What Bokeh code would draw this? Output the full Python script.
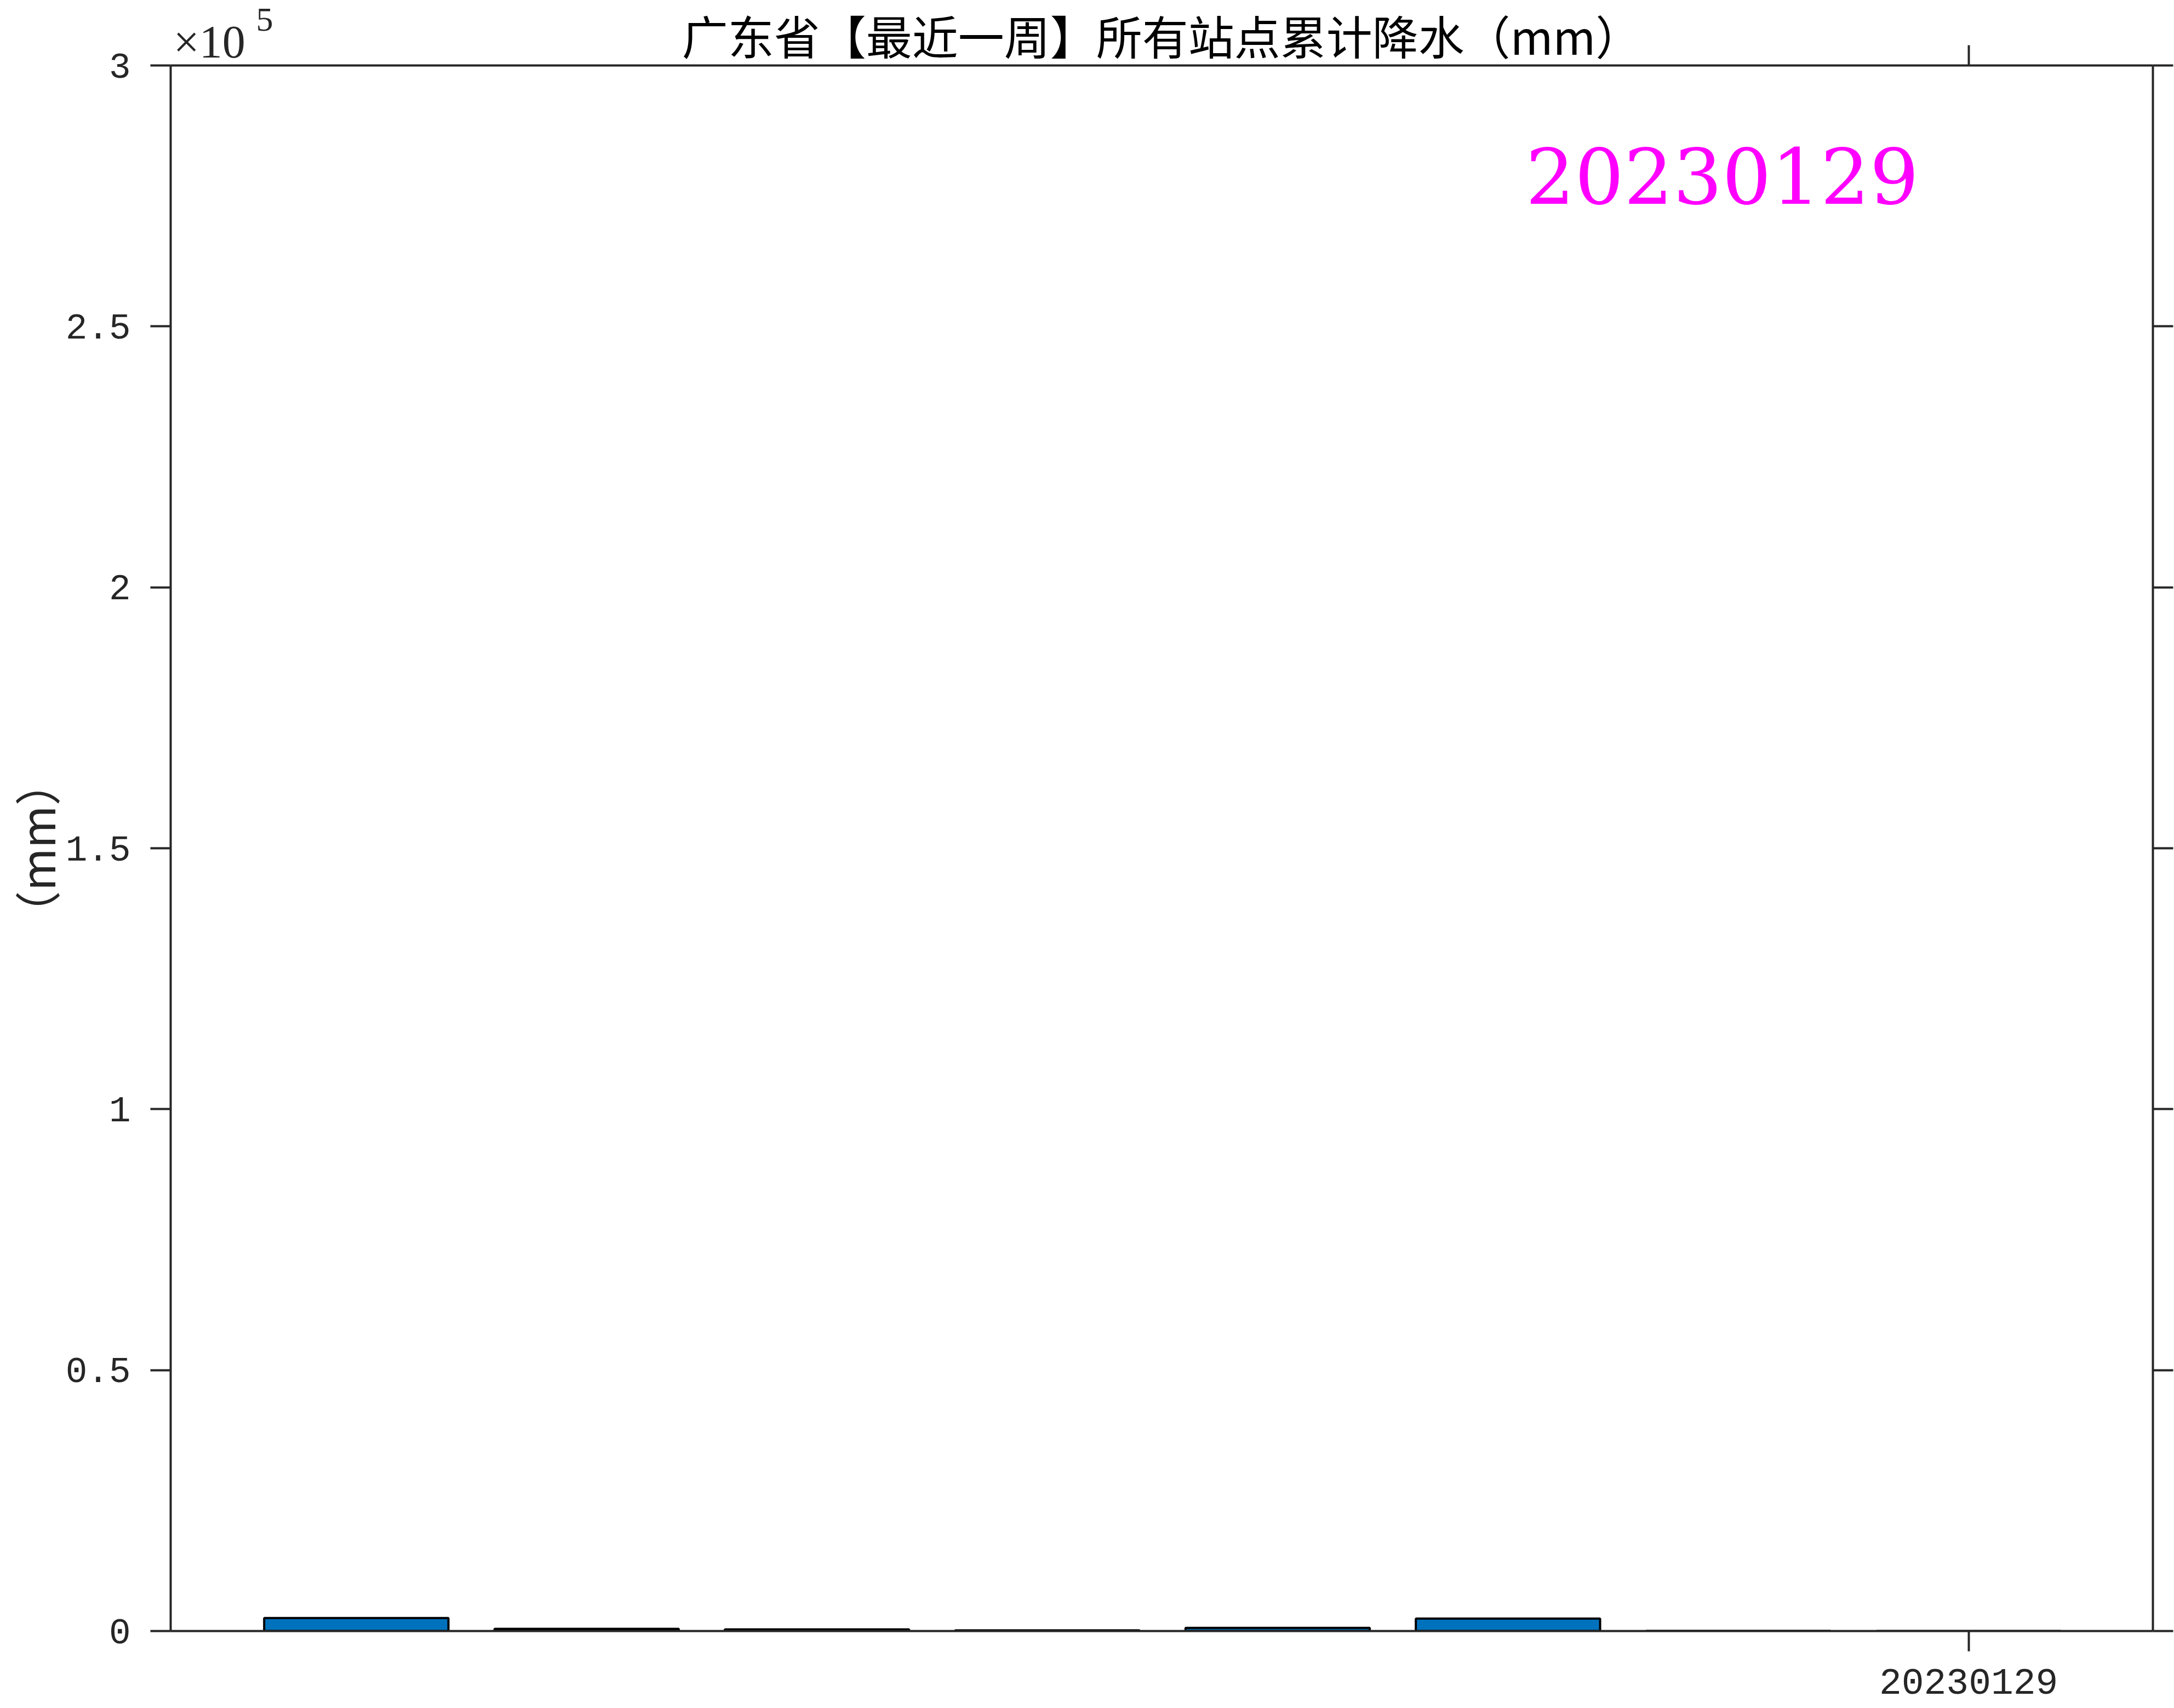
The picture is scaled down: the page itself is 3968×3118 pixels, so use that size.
import math
from bokeh.plotting import figure
from bokeh.models import Range1d, LinearAxis, FixedTicker, Label
from bokeh.core.properties import value
from bokeh.embed import file_html
from bokeh.resources import INLINE

# ---- data ----
bar_positions = [1, 2, 3, 4, 5, 6, 7, 8]
precip_mm = [2500, 420, 320, 130, 600, 2400, 20, 0]
x_tick_positions = [8]
x_tick_labels = ["20230129"]
y_ticks = [0, 50000, 100000, 150000, 200000, 250000, 300000]
y_tick_labels = ["0", "0.5", "1", "1.5", "2", "2.5", "3"]
title_text = "广东省【最近一周】所有站点累计降水（mm）"
y_label_text = "（mm）"
exponent_base = "×10"
exponent_power = "5"
stamp_text = "20230129"
stamp_x = 6.93
stamp_y = 278900
x_limits = (0.194, 8.8)
y_limits = (0, 300000)

AX = "#262626"

p = figure(width=3968, height=3118,
           x_range=Range1d(*x_limits), y_range=Range1d(*y_limits),
           output_backend="svg", toolbar_location=None,
           min_border_left=311, min_border_right=39,
           min_border_top=119, min_border_bottom=141)
p.grid.visible = False
p.outline_line_color = None
p.background_fill_color = "white"
p.border_fill_color = "white"


def style_axis(ax, label_size):
    ax.axis_line_color = AX
    ax.axis_line_width = 4
    ax.major_tick_line_color = AX
    ax.major_tick_line_width = 4
    ax.major_tick_out = 37
    ax.major_tick_in = 0
    ax.minor_tick_line_color = None
    ax.major_label_text_font = "Liberation Mono"
    ax.major_label_text_font_size = label_size
    ax.major_label_text_color = AX


# left axis
yl = p.yaxis[0]
yl.ticker = FixedTicker(ticks=y_ticks)
yl.major_label_overrides = {t: s for t, s in zip(y_ticks, y_tick_labels)}
style_axis(yl, "66px")
yl.major_label_standoff = 36

# bottom axis
xb = p.xaxis[0]
xb.ticker = FixedTicker(ticks=x_tick_positions)
xb.major_label_overrides = {t: s for t, s in zip(x_tick_positions, x_tick_labels)}
style_axis(xb, "68px")
xb.major_label_standoff = 32

# right axis (ticks only)
yr = LinearAxis(ticker=FixedTicker(ticks=y_ticks))
style_axis(yr, "10px")
yr.major_label_overrides = {t: "" for t in y_ticks}
yr.major_label_standoff = 0
p.add_layout(yr, "right")

# top axis (ticks only)
xt = LinearAxis(ticker=FixedTicker(ticks=x_tick_positions))
style_axis(xt, "10px")
xt.major_label_overrides = {t: "" for t in x_tick_positions}
xt.major_label_standoff = 0
p.add_layout(xt, "above")

# bars
p.vbar(x=bar_positions, top=precip_mm, width=0.8, bottom=0,
       fill_color="#0072BD", line_color="black", line_width=4)

x_mid = (x_limits[0] + x_limits[1]) / 2
y_mid = (y_limits[0] + y_limits[1]) / 2

# texts outside the frame: glyphs on the overlay level (not clipped)
p.text(x=[x_mid], y=[y_limits[1]], text=[title_text], y_offset=-56,
       text_font=value("Noto Sans CJK SC"), text_font_size="84px",
       text_color="black", text_align="center", text_baseline="middle",
       level="overlay")

p.text(x=[x_limits[0]], y=[y_limits[1]], text=[exponent_base], x_offset=5, y_offset=-43,
       text_font=value("Liberation Serif"), text_font_size="84px",
       text_color=AX, text_align="left", text_baseline="alphabetic",
       level="overlay")
p.text(x=[x_limits[0]], y=[y_limits[1]], text=[exponent_power], x_offset=156, y_offset=-84,
       text_font=value("Liberation Serif"), text_font_size="62px",
       text_color=AX, text_align="left", text_baseline="alphabetic",
       level="overlay")

p.text(x=[x_limits[0]], y=[y_mid], text=[y_label_text], x_offset=-247,
       angle=math.pi / 2, text_font=value("Noto Sans CJK SC"), text_font_size="84px",
       text_color=AX, text_align="center", text_baseline="middle",
       level="overlay")

# magenta date stamp
p.add_layout(Label(x=stamp_x, y=stamp_y, text=stamp_text,
                   text_font="DejaVu Serif", text_font_size="141px",
                   text_color="#FF00FF", text_align="center", text_baseline="middle"))

open("out.html", "w").write(file_html(p, INLINE))
